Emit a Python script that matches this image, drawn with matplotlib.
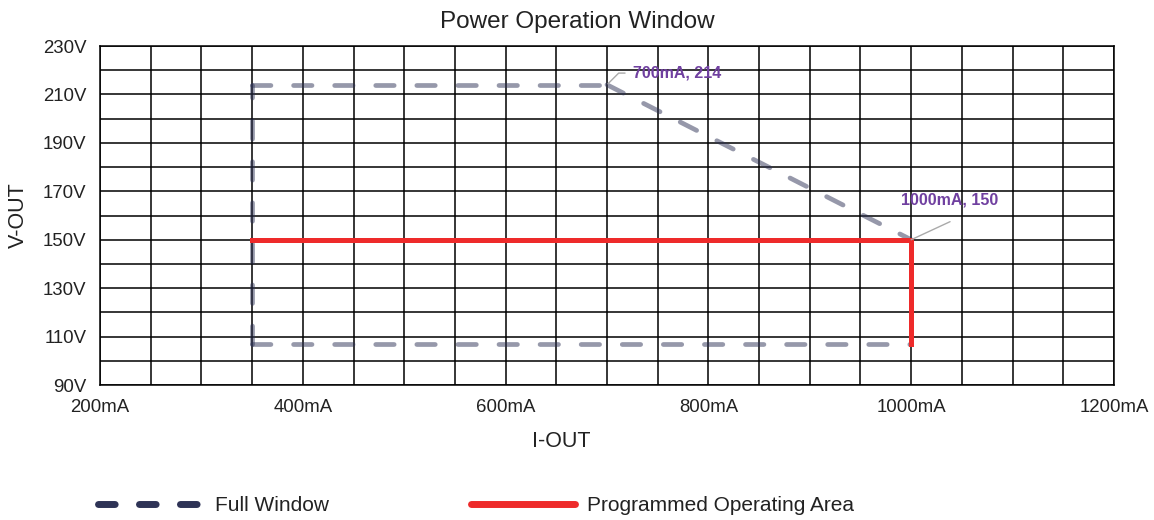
import matplotlib
matplotlib.use("Agg")
import matplotlib.pyplot as plt
from matplotlib.lines import Line2D
from matplotlib.ticker import MultipleLocator, FixedLocator, FuncFormatter

plt.rcParams['font.family'] = ['Liberation Sans', 'DejaVu Sans']

# Data
full_window_i = [350, 350, 700, 1000, 1000]
full_window_v = [107, 214, 214, 150, 107]
programmed_i = [350, 1000, 1000]
programmed_v = [150, 150, 107]
annot_points = [(700, 214), (1000, 150)]
annot_labels = ["700mA, 214", "1000mA, 150"]
x_ticks = [200, 400, 600, 800, 1000, 1200]
y_ticks = [90, 110, 130, 150, 170, 190, 210, 230]

fig = plt.figure(figsize=(11.54, 5.2), dpi=100)
ax = fig.add_axes([0.0867, 0.2596, 0.8786, 0.6519])

ax.set_xlim(200, 1200)
ax.set_ylim(90, 230)
ax.xaxis.set_major_locator(FixedLocator(x_ticks))
ax.xaxis.set_minor_locator(MultipleLocator(50))
ax.yaxis.set_major_locator(FixedLocator(y_ticks))
ax.yaxis.set_minor_locator(MultipleLocator(10))
ax.xaxis.set_major_formatter(FuncFormatter(lambda v, p: f"{int(v)}mA"))
ax.yaxis.set_major_formatter(FuncFormatter(lambda v, p: f"{int(v)}V"))
ax.grid(True, which='both', color='black', linewidth=1.1)
ax.tick_params(which='both', length=0, labelsize=13.4, colors='#222222')
ax.tick_params(axis='x', pad=10)
ax.tick_params(axis='y', pad=10)
for s in ax.spines.values():
    s.set_color('black')
    s.set_linewidth(1.1)
ax.set_axisbelow(True)

navy = '#2e3356'
segments = [((full_window_i[k], full_window_i[k + 1]), (full_window_v[k], full_window_v[k + 1]))
            for k in range(len(full_window_i) - 1)]
segments.append(((full_window_i[0], full_window_i[-1]), (full_window_v[0], full_window_v[-1])))
for xs, ys in segments:
    seg, = ax.plot(xs, ys, color=navy, alpha=0.5, lw=3.4,
                   dash_capstyle='round', solid_capstyle='round', zorder=3)
    seg.set_dashes((3.9, 4.8))
ax.plot(programmed_i, programmed_v, color='#ee2a2a', lw=3.6, zorder=4,
        solid_joinstyle='miter')

purple = '#7040a0'
ax.annotate(annot_labels[0], xy=annot_points[0], xytext=(19, 8.4), textcoords='offset points',
            fontsize=11.5, fontweight='bold', color=purple, va='center', ha='left', zorder=5)
ax.annotate('', xy=annot_points[0], xytext=(13, 8.4), textcoords='offset points',
            arrowprops=dict(arrowstyle='-', color='#aaaaaa', lw=1.0,
                            connectionstyle='angle,angleA=0,angleB=45,rad=0',
                            shrinkA=0, shrinkB=1), zorder=5)
ax.annotate(annot_labels[1], xy=annot_points[1], xytext=(-7, 28.6), textcoords='offset points',
            fontsize=11.5, fontweight='bold', color=purple, va='center', ha='left',
            zorder=5)
ax.annotate('', xy=annot_points[1], xytext=(28, 13), textcoords='offset points',
            arrowprops=dict(arrowstyle='-', color='#aaaaaa', lw=1.0, shrinkA=0, shrinkB=0), zorder=5)

fig.suptitle("Power Operation Window", fontsize=17.5, color='#222222', x=0.5, y=0.978, va='top')
ax.set_xlabel("I-OUT", fontsize=15.5, color='#222222', labelpad=10)
ax.xaxis.set_label_coords(0.4546, -0.137)
ax.set_ylabel("V-OUT", fontsize=15.5, color='#222222', labelpad=10)

h1 = Line2D([], [], color=navy, lw=5, dash_capstyle='round')
h1.set_dashes((2.4, 3.5))
h2 = Line2D([], [], color='#ee2a2a', lw=5, solid_capstyle='round')
fig.legend([h1, h2], ["Full Window", "Programmed Operating Area"], loc='center left',
           bbox_to_anchor=(0.069, 0.027), ncol=2, frameon=False, fontsize=15,
           handlelength=5.0, columnspacing=6.8, handletextpad=0.6, labelcolor='#222222')

fig.savefig("out.png", dpi=100)
